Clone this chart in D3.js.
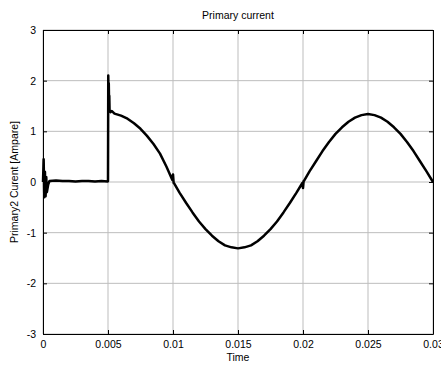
<!DOCTYPE html>
<html>
<head>
<meta charset="utf-8">
<script src="https://cdn.jsdelivr.net/npm/d3@7"></script>
<style>
  body { margin: 0; background: #fff; }
  text { font-family: "Liberation Sans", Arial, sans-serif; }
</style>
</head>
<body>
<div id="chart"></div>
<script>
// values
const timeVals = [
  0, 0.00005, 0.0001, 0.00015, 0.0002, 0.00025, 0.0003, 0.0004, 0.0005,
  0.001, 0.0015, 0.002, 0.0025, 0.003, 0.0035, 0.004, 0.0045, 0.00498,
  0.00500, 0.00502, 0.00504, 0.00506, 0.00508, 0.0051, 0.00512, 0.0052, 0.0053,
  0.0055, 0.006, 0.0065, 0.007, 0.0075, 0.008, 0.0085, 0.009, 0.0095,
  0.00995, 0.01, 0.01005, 0.0101,
  0.0105, 0.011, 0.0115, 0.012, 0.0125, 0.013, 0.0135, 0.014, 0.0145, 0.015,
  0.0155, 0.016, 0.0165, 0.017, 0.0175, 0.018, 0.0185, 0.019, 0.0195,
  0.01995, 0.02, 0.02005, 0.0201,
  0.0205, 0.021, 0.0215, 0.022, 0.0225, 0.023, 0.0235, 0.024, 0.0245, 0.025,
  0.0255, 0.026, 0.0265, 0.027, 0.0275, 0.028, 0.0285, 0.029, 0.0295, 0.03
]
const currentVals = [
  0, 0.45, -0.3, 0.2, -0.28, 0.1, -0.2, -0.05, 0.02,
  0.03, 0.02, 0.02, 0.01, 0.02, 0.02, 0.01, 0.02, 0.01,
  0.02, 2.1, 1.75, 1.95, 1.6, 1.7, 1.42, 1.38, 1.40,
  1.35, 1.31, 1.25, 1.16, 1.05, 0.91, 0.75, 0.56, 0.30,
  0.04, 0.15, -0.02, -0.03,
  -0.21, -0.41, -0.6, -0.78, -0.93, -1.06, -1.17, -1.25, -1.29, -1.31,
  -1.29, -1.25, -1.17, -1.06, -0.93, -0.78, -0.6, -0.41, -0.21,
  -0.02, -0.12, 0.02, 0.03,
  0.21, 0.41, 0.61, 0.79, 0.95, 1.08, 1.19, 1.27, 1.32, 1.34,
  1.32, 1.27, 1.19, 1.08, 0.95, 0.79, 0.61, 0.41, 0.21, 0
]
const xTicks = [0, 0.005, 0.01, 0.015, 0.02, 0.025, 0.03]
const yTicks = [-3, -2, -1, 0, 1, 2, 3]

const WIDTH = 441
const HEIGHT = 367
const margin = { top: 30, right: 8, bottom: 33, left: 43 }

const svg = d3.select("#chart")
  .append("svg")
  .attr("width", WIDTH)
  .attr("height", HEIGHT)

const x = d3.scaleLinear().domain([0, 0.03]).range([margin.left, WIDTH - margin.right])
const y = d3.scaleLinear().domain([-3, 3]).range([HEIGHT - margin.bottom, margin.top])

//grid
svg.append("g")
  .selectAll("line")
  .data(xTicks)
  .enter()
  .append("line")
  .attr("x1", d => x(d)).attr("x2", d => x(d))
  .attr("y1", y(3)).attr("y2", y(-3))
  .attr("stroke", "#bdbdbd")
  .attr("stroke-width", 1)

svg.append("g")
  .selectAll("line")
  .data(yTicks)
  .enter()
  .append("line")
  .attr("x1", x(0)).attr("x2", x(0.03))
  .attr("y1", d => y(d)).attr("y2", d => y(d))
  .attr("stroke", "#bdbdbd")
  .attr("stroke-width", 1)

//axes, matlab style box with inner ticks
const fmt = d => String(d)
const axes = [
  [d3.axisBottom(x).tickValues(xTicks).tickFormat(fmt), `translate(0,${y(-3)})`],
  [d3.axisTop(x).tickValues(xTicks).tickFormat(""), `translate(0,${y(3)})`],
  [d3.axisLeft(y).tickValues(yTicks).tickFormat(fmt), `translate(${x(0)},0)`],
  [d3.axisRight(y).tickValues(yTicks).tickFormat(""), `translate(${x(0.03)},0)`]
]
axes.forEach(([ax, tr]) => {
  const g = svg.append("g")
    .attr("transform", tr)
    .call(ax.tickSizeInner(-4).tickSizeOuter(0).tickPadding(7))
  g.select(".domain").attr("stroke", "#000").attr("stroke-width", 1)
  g.selectAll(".tick line").attr("stroke", "#000")
  g.selectAll(".tick text")
    .attr("fill", "#000")
    .style("font-size", "10.5px")
})

//data line
const line = d3.line()
  .x((d, i) => x(timeVals[i]))
  .y(d => y(d))

svg.append("path")
  .datum(currentVals)
  .attr("d", line)
  .attr("fill", "none")
  .attr("stroke", "#000")
  .attr("stroke-width", 2.5)
  .attr("stroke-linejoin", "round")

//labels
svg.append("text")
  .attr("x", (x(0) + x(0.03)) / 2)
  .attr("y", 19)
  .attr("text-anchor", "middle")
  .style("font-size", "10.5px")
  .text("Primary current")

svg.append("text")
  .attr("x", (x(0) + x(0.03)) / 2)
  .attr("y", 361)
  .attr("text-anchor", "middle")
  .style("font-size", "10.5px")
  .text("Time")

svg.append("text")
  .attr("transform", `translate(18,${(y(3) + y(-3)) / 2}) rotate(-90)`)
  .attr("text-anchor", "middle")
  .style("font-size", "10.5px")
  .text("Primary2 Curent [Ampare]")
</script>
</body>
</html>
